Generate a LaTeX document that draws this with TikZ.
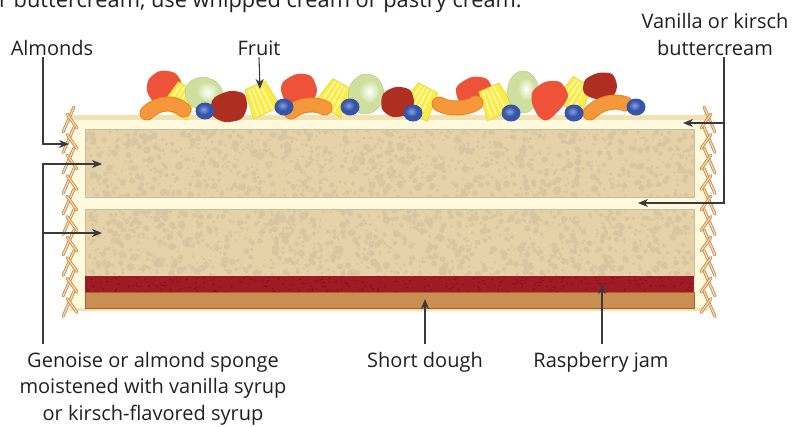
\documentclass[tikz,border=0pt]{standalone}
\usepackage{fontspec}
\setmainfont{Open Sans}
\usetikzlibrary{arrows.meta,calc}

\definecolor{ink}{HTML}{231F20}
\definecolor{leader}{HTML}{3A3A3A}
\definecolor{creamfill}{HTML}{FFFADD}
\definecolor{creamedge}{HTML}{F1E1B3}
\definecolor{sponge}{HTML}{E6D2A9}
\definecolor{spongedot}{HTML}{D8C6A3}
\definecolor{spongeedge}{HTML}{CDBA95}
\definecolor{jam}{HTML}{9E1A24}
\definecolor{jamdot}{HTML}{7C1019}
\definecolor{dough}{HTML}{C98E54}
\definecolor{doughedge}{HTML}{A4631F}
\definecolor{almondfill}{HTML}{F4D9AC}
\definecolor{almondedge}{HTML}{C88A4C}
\definecolor{redfruit}{HTML}{EE533A}
\definecolor{darkfruit}{HTML}{AE2E21}
\definecolor{grape}{HTML}{CFE09E}
\definecolor{grapeedge}{HTML}{B9CF88}
\definecolor{pine}{HTML}{F9EC47}
\definecolor{pinelight}{HTML}{FDF7A6}
\definecolor{pineedge}{HTML}{E3D21E}
\definecolor{peach}{HTML}{F5983C}
\definecolor{peachedge}{HTML}{E9821F}
\definecolor{berry}{HTML}{3556A8}
\definecolor{berrylight}{HTML}{8E9EDB}

\tikzset{
  leaderline/.style={draw=leader, line width=1.1pt},
  arrowline/.style={leaderline, -{Stealth[length=10pt,width=8pt,inset=3pt]}},
  caption/.style={font=\fontsize{20}{26.5}\selectfont, text=ink, inner sep=0pt, align=center},
  spongebox/.style={fill=sponge, draw=spongeedge, line width=0.8pt},
}

% pineapple wedge: centre x, centre y, rotation
\newcommand\pinewedge[3]{%
  \begin{scope}[shift={(#1,#2)}, rotate=#3]
    \fill[pine, draw=pineedge, line width=0.5pt] (-11,-15) -- (11,-15) -- (15,15) -- (-15,15) -- cycle;
    \foreach \s in {-9,-4,1,6}
      \draw[pinelight, line width=1.6pt] (\s*0.8,-14) -- (\s*1.1,14);
  \end{scope}}

% almond sliver between two points
\newcommand\sliver[4]{%
  \draw[almondedge, line width=3pt, line cap=round] (#1,#2) -- (#3,#4);
  \draw[almondfill, line width=1.3pt, line cap=round] (#1,#2) -- (#3,#4);}

% blueberry: centre x, centre y
\newcommand\berry[2]{%
  \fill[berry] (#1,#2) ellipse (9.5 and 8.5);
  \shade[inner color=berrylight, outer color=berry] (#1-1.5,#2-1.5) ellipse (6 and 5);}

% grape: centre x, centre y, rx, ry, rotation
\newcommand\grape[5]{%
  \fill[grape, draw=grapeedge, line width=0.6pt, rotate around={#5:(#1,#2)}] (#1,#2) ellipse (#3 and #4);
  \shade[inner color=white, outer color=grape, rotate around={#5:(#1,#2)}] (#1+3,#2-3) ellipse (#3*0.55 and #4*0.55);}

% peach slice as a curved stroke: start, control 1, control 2, end
\newcommand\peachslice[4]{%
  \draw[peachedge, line width=15pt, line cap=round] (#1) .. controls (#2) and (#3) .. (#4);
  \draw[peach, line width=13pt, line cap=round] (#1) .. controls (#2) and (#3) .. (#4);}

% a column of almond slivers along a side of the cake
\newcommand\almondcolumn{%
  \foreach \k in {0,...,9} {
    \pgfmathsetmacro\yy{107+\k*20.5}
    \sliver{63}{\yy+25}{74}{\yy}
    \sliver{67}{\yy+7}{77}{\yy+21}
  }}

\begin{document}
\begin{tikzpicture}[x=1pt, y=-1pt]
\useasboundingbox (0,0) rectangle (797,426);
\clip (0,0) rectangle (797,426);

% ---------- cake body ----------
\fill[creamfill] (70,115) rectangle (708,310);
\fill[creamedge] (70,115) rectangle (708,119.5);
\fill[creamedge] (70,308) rectangle (708,310.5);

% sponge layers with crumb texture
\path[spongebox] (85,129) rectangle (694,197);
\path[spongebox] (85,209) rectangle (694,276);
\begin{scope}
  \clip (85.5,129.5) rectangle (693.5,196.5) (85.5,209.5) rectangle (693.5,275.5);
  \pgfmathsetseed{11}
  \foreach \i in {1,...,2600} {
    \pgfmathsetmacro\px{85+609*rnd}
    \pgfmathsetmacro\py{129+147*rnd}
    \pgfmathsetmacro\pr{1.2+3*rnd*rnd}
    \fill[spongedot] (\px,\py) circle (\pr);
  }
\end{scope}

% raspberry jam
\fill[jam] (85,276) rectangle (694,292);
\begin{scope}
  \clip (85,276) rectangle (694,292);
  \pgfmathsetseed{5}
  \foreach \i in {1,...,260} {
    \pgfmathsetmacro\px{85+609*rnd}
    \pgfmathsetmacro\py{276+16*rnd}
    \fill[jamdot] (\px,\py) ellipse (1.1 and 0.6);
  }
\end{scope}

% short dough base
\path[fill=dough, draw=doughedge, line width=1pt] (85,292) rectangle (694,308.5);

% almonds on both sides
\almondcolumn
\begin{scope}[shift={(778,0)}, xscale=-1]
  \almondcolumn
\end{scope}

% ---------- fruit on top ----------
% red pieces
\fill[redfruit] plot[smooth cycle] coordinates {(149,79) (160,71) (175,73) (182,85) (177,97) (165,101) (154,102) (147,91)};
\fill[redfruit] plot[smooth cycle] coordinates {(284,81) (297,74) (311,76) (317,90) (312,101) (298,104) (286,102) (281,90)};
\fill[redfruit] plot[smooth cycle] coordinates {(458,85) (472,77) (487,79) (493,92) (488,103) (473,105) (460,102) (456,92)};

% pineapple wedges
\pinewedge{181}{100}{-28}
\pinewedge{261}{99}{24}
\pinewedge{335}{97}{-30}
\pinewedge{421}{101}{-28}
\pinewedge{495}{101}{24}
\pinewedge{575}{95}{-32}

% grapes
\grape{204}{94}{19}{16.5}{-15}
\grape{366}{94}{17.5}{20}{-10}
\grape{523}{92}{15.5}{21}{0}

% red drop in front of the last grape
\fill[redfruit] plot[smooth cycle] coordinates {(533,91) (545,82) (560,82) (568,95) (562,107) (548,120) (539,117) (532,103)};

% dark red pieces
\fill[darkfruit] plot[smooth cycle] coordinates {(215,97) (230,91) (244,94) (247,107) (241,119) (225,122) (213,116) (211,105)};
\fill[darkfruit] plot[smooth cycle] coordinates {(383,94) (396,87) (410,90) (414,103) (408,114) (393,117) (382,109)};
\fill[darkfruit] plot[smooth cycle] coordinates {(585,80) (598,73) (612,74) (617,86) (612,97) (596,99) (584,93)};

% peach slices
\peachslice{147,113}{158,102}{174,101}{184,110}
\peachslice{291,112}{301,104}{315,103}{325,108}
\peachslice{439,104}{450,110}{466,109}{476,103}
\peachslice{590,113}{601,102}{615,100}{626,104}

% blueberries
\berry{205}{111}
\berry{284}{107}
\berry{350}{107}
\berry{413}{113}
\berry{511}{113}
\berry{574}{113}
\berry{636}{107}

% ---------- labels ----------
\node[caption, font=\fontsize{21.8}{26}\selectfont, anchor=base east] (note) at (522,7) {or buttercream, use whipped cream or pastry cream.};
\node[caption, anchor=base] (almonds) at (52,55) {Almonds};
\node[caption, anchor=base] (fruit) at (259,55) {Fruit};
\node[caption, anchor=base] (butter) at (715,55) {Vanilla or kirsch\\buttercream};
\node[caption, anchor=base] (genoise) at (153,420) {Genoise or almond sponge\\moistened with vanilla syrup\\or kirsch-flavored syrup};
\node[caption, anchor=base] (shortdough) at (425,367) {Short dough};
\node[caption, anchor=base] (jamlabel) at (601,367) {Raspberry jam};

% ---------- leaders ----------
\coordinate (almondTip) at (69,144);
\coordinate (fruitTip) at (260,89);
\coordinate (creamTopTip) at (683,123);
\coordinate (creamMidTip) at (638,203);
\coordinate (creamJoin) at (724,123);
\coordinate (spongeTopTip) at (102,164);
\coordinate (spongeLowTip) at (102,233);
\coordinate (spongeJoin) at (43,233);
\coordinate (doughTip) at (425,299);
\coordinate (jamTip) at (602,284);

\draw[arrowline] ([xshift=-9pt,yshift=-2pt]almonds.south) |- (almondTip);
\draw[arrowline] ([yshift=-2pt]fruit.south) -- (fruitTip);
\draw[arrowline] ([xshift=9pt,yshift=-2pt]butter.south) |- (creamMidTip);
\draw[arrowline] (creamJoin) -- (creamTopTip);
\draw[arrowline] ([xshift=-110pt,yshift=8pt]genoise.north) |- (spongeTopTip);
\draw[arrowline] (spongeJoin) -- (spongeLowTip);
\draw[arrowline] ([yshift=8pt]shortdough.north) -- (doughTip);
\draw[arrowline] ([xshift=1pt,yshift=8pt]jamlabel.north) -- (jamTip);
\end{tikzpicture}
\end{document}
